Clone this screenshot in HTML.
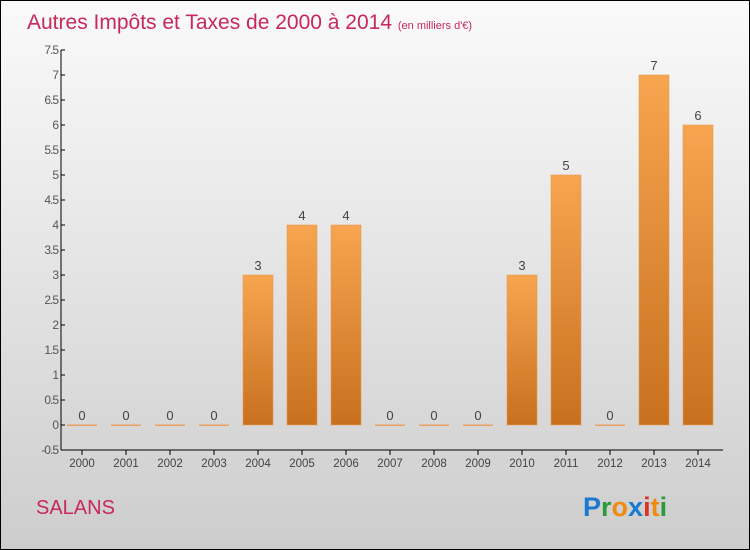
<!DOCTYPE html>
<html><head><meta charset="utf-8"><style>
html,body{margin:0;padding:0}
body{width:750px;height:550px;overflow:hidden;font-family:"Liberation Sans",sans-serif}
#wrap{position:relative;width:748px;height:548px;border:1px solid #000;background:linear-gradient(#fafafa,#cdcdcd)}
svg{position:absolute;left:0;top:0}
</style></head><body>
<div id="wrap">
<svg id="c" width="748" height="548">
<defs><linearGradient id="g" x1="0" y1="0" x2="0" y2="1"><stop offset="0" stop-color="#f7a550"/><stop offset="1" stop-color="#c8701e"/></linearGradient></defs>
<text x="26" y="28" font-size="21" fill="#c8285a">Autres Impôts et Taxes de 2000 à 2014 <tspan font-size="11">(en milliers d'€)</tspan></text>
<text x="35" y="513" font-size="20" fill="#c8285a">SALANS</text>
<text x="582" y="515" font-size="27" font-weight="bold"><tspan fill="#1a7ad0">P</tspan><tspan fill="#2a9a3a">r</tspan><tspan fill="#f08a10">o</tspan><tspan fill="#1a7ad0">x</tspan><tspan fill="#e03020">i</tspan><tspan fill="#f08a10">t</tspan><tspan fill="#2a9a3a">i</tspan></text>
</svg></div>
<script>
const years=["2000","2001","2002","2003","2004","2005","2006","2007","2008","2009","2010","2011","2012","2013","2014"];
const values=[0,0,0,0,3,4,4,0,0,0,3,5,0,7,6];
const ticks=[-0.5,0,0.5,1,1.5,2,2.5,3,3.5,4,4.5,5,5.5,6,6.5,7,7.5];
const NS="http://www.w3.org/2000/svg",svg=document.getElementById('c');
const y=v=>424-v*50, x=i=>81+i*44;
function mk(t,a,txt){const e=document.createElementNS(NS,t);for(const k in a)e.setAttribute(k,a[k]);if(txt!==undefined)e.textContent=txt;svg.appendChild(e);return e;}
let ax=mk('line',{x1:60,y1:y(7.5),x2:60,y2:y(-0.5),stroke:'#000'});


let bx=mk('line',{x1:60,y1:y(-0.5),x2:722,y2:y(-0.5),stroke:'#000'});


ticks.forEach(t=>{
 mk('line',{x1:60,y1:y(t),x2:64,y2:y(t),stroke:'#000'});
 let l=mk('text',{x:57,y:y(t)+4,'font-size':12,fill:'#555','text-anchor':'end','letter-spacing':'-1'},String(t));
 
 
});
years.forEach((yr,i)=>{
 mk('line',{x1:x(i),y1:y(-0.5),x2:x(i),y2:y(-0.5)+5,stroke:'#000'});
 let l=mk('text',{x:x(i),y:y(-0.5)+17,'font-size':11.5,fill:'#444','text-anchor':'middle'},yr);
 
 
 const v=values[i];
 let b;
 if(v===0){b=mk('rect',{x:x(i)-15,y:y(0)-0.5,width:30,height:1.5,fill:'#e8a060'});}
 else{b=mk('rect',{x:x(i)-15,y:y(v),width:30,height:y(0)-y(v),fill:'url(#g)',stroke:'#e89a50','stroke-width':0.6});}
 
 
 let vl=mk('text',{x:x(i),y:y(v)-5,'font-size':13,fill:'#444','text-anchor':'middle'},String(v));
 
 
});
</script>
</body></html>
